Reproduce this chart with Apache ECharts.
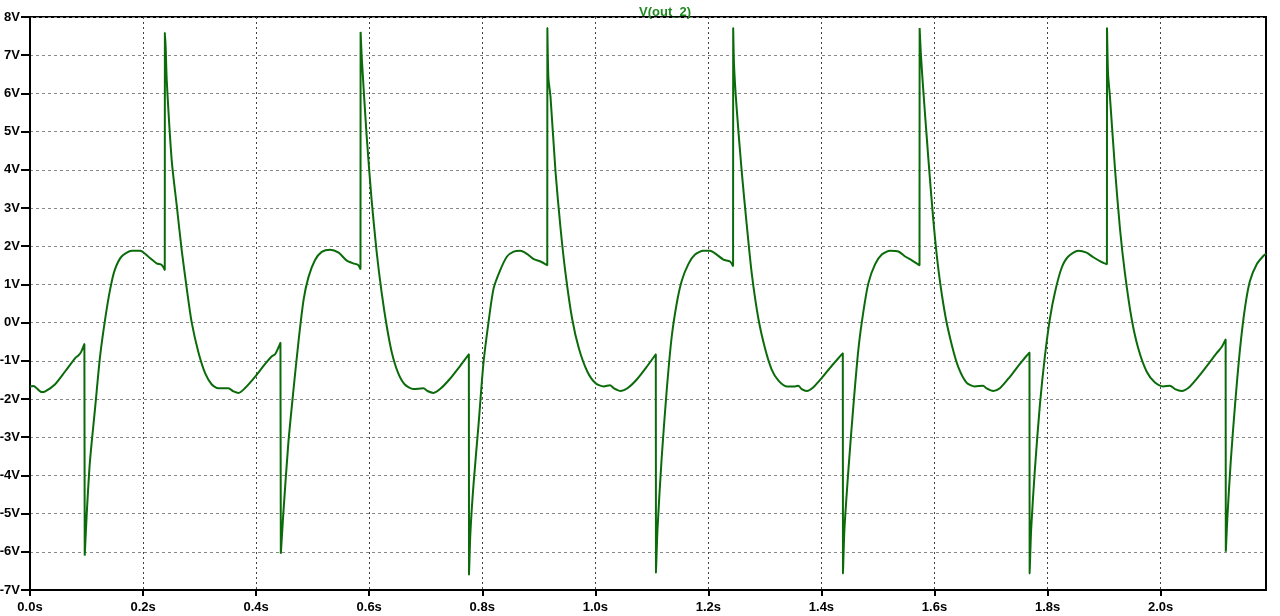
<!DOCTYPE html>
<html>
<head>
<meta charset="utf-8">
<script src="https://cdn.jsdelivr.net/npm/echarts@6/dist/echarts.min.js"></script>
<style>
html,body{margin:0;padding:0;background:#fff;}
#chart{width:1280px;height:616px;}
</style>
</head>
<body>
<div id="chart"></div>
<script>
const seriesName = 'V(out_2)';
const yTicks = [-7,-6,-5,-4,-3,-2,-1,0,1,2,3,4,5,6,7,8];
const xTicks = [0.0,0.2,0.4,0.6,0.8,1.0,1.2,1.4,1.6,1.8,2.0];
const timeS = [
0.000,0.006,0.0206,0.027,0.044,0.062,0.080,0.0855,0.090,0.0962,0.0968,0.1003,0.106,0.115,0.124,0.133,0.142,0.150,0.162,0.180,0.195,0.209,0.224,0.233,0.2384,
0.2386,0.2400,0.242,0.2507,0.2596,0.2685,0.2773,0.2861,0.298,0.310,0.3215,0.333,0.351,0.360,0.369,0.380,0.398,0.416,0.428,0.4336,0.443,
0.4437,0.448,0.457,0.466,0.475,0.484,0.4926,0.504,0.516,0.531,0.546,0.5598,0.5716,0.5805,0.5846,
0.5848,0.587,0.5953,0.604,0.613,0.622,0.631,0.640,0.6515,0.663,0.678,0.696,0.703,0.7136,0.7254,0.743,0.761,0.7763,
0.7766,0.779,0.7846,0.7935,0.802,0.811,0.820,0.832,0.8438,0.8556,0.8675,0.879,0.891,0.903,0.915,
0.9152,0.917,0.9207,0.9296,0.9385,0.9473,0.959,0.971,0.9858,1.0006,1.015,1.026,1.033,1.045,1.0568,1.0745,1.0923,1.107,
1.1073,1.110,1.1174,1.1263,1.135,1.144,1.1528,1.1646,1.1764,1.1912,1.203,1.2147,1.2265,1.2383,1.2437,
1.2439,1.2455,1.250,1.259,1.2678,1.2767,1.2885,1.3003,1.312,1.324,1.3386,1.3534,1.359,1.365,1.374,1.3858,1.4006,1.4183,1.4378,
1.4381,1.4407,1.4478,1.4566,1.4655,1.4743,1.4832,1.495,1.5068,1.5215,1.5363,1.548,1.560,1.5735,
1.5737,1.576,1.5805,1.5894,1.598,1.607,1.6189,1.6307,1.6425,1.6566,1.6714,1.686,1.692,1.7038,1.7156,1.7333,1.751,1.768,
1.7683,1.771,1.7776,1.7864,1.7953,1.8041,1.813,1.8248,1.8366,1.8543,1.869,1.881,1.8926,1.905,
1.9052,1.907,1.9103,1.9192,1.928,1.9369,1.9487,1.9605,1.9752,1.990,2.0047,2.0165,2.0254,2.0372,2.052,2.0696,2.0873,2.0991,2.108,2.115,
2.1153,2.118,2.124,2.1316,2.1405,2.1493,2.158,2.170,2.182,2.1864
];
const voltV = [
-1.67,-1.66,-1.82,-1.80,-1.62,-1.28,-0.93,-0.86,-0.78,-0.56,-6.10,-5.02,-3.64,-2.26,-0.88,0.10,0.89,1.38,1.73,1.88,1.88,1.73,1.55,1.51,1.38,
7.59,7.20,6.31,4.24,3.06,1.88,0.89,0.00,-0.78,-1.33,-1.62,-1.72,-1.72,-1.80,-1.84,-1.72,-1.42,-1.08,-0.88,-0.83,-0.53,
-6.05,-5.02,-3.15,-1.77,-0.49,0.60,1.19,1.63,1.85,1.91,1.83,1.63,1.55,1.51,1.40,
7.61,6.90,4.93,3.26,1.88,0.79,-0.09,-0.78,-1.33,-1.62,-1.74,-1.72,-1.79,-1.84,-1.74,-1.47,-1.13,-0.83,
-6.60,-5.51,-4.23,-2.66,-1.08,0.00,0.89,1.38,1.73,1.86,1.88,1.80,1.66,1.60,1.50,
7.71,6.41,5.92,3.95,2.47,1.29,0.10,-0.68,-1.28,-1.59,-1.67,-1.64,-1.72,-1.79,-1.72,-1.47,-1.13,-0.83,
-6.55,-5.41,-3.54,-1.77,-0.39,0.50,1.09,1.53,1.78,1.88,1.88,1.78,1.65,1.60,1.48,
7.71,6.70,5.62,3.95,2.57,1.29,0.10,-0.68,-1.23,-1.52,-1.67,-1.67,-1.65,-1.74,-1.79,-1.69,-1.45,-1.13,-0.80,
-6.57,-5.41,-3.84,-2.16,-0.68,0.30,1.04,1.53,1.78,1.88,1.86,1.73,1.63,1.50,
7.71,7.00,6.01,4.24,2.67,1.38,0.20,-0.59,-1.18,-1.57,-1.67,-1.65,-1.72,-1.79,-1.72,-1.42,-1.08,-0.78,
-6.57,-5.41,-3.84,-2.16,-0.88,0.10,0.79,1.43,1.73,1.88,1.83,1.71,1.61,1.53,
7.71,6.51,5.92,4.04,2.47,1.29,0.10,-0.68,-1.28,-1.57,-1.67,-1.65,-1.74,-1.79,-1.67,-1.37,-1.03,-0.80,-0.64,-0.44,
-6.00,-5.12,-3.64,-2.16,-0.68,0.40,1.09,1.53,1.75,1.80
];
const xMax = 2.1864;

const data = timeS.map((t, i) => [t, voltV[i]]);
const chart = echarts.init(document.getElementById('chart'), null, {renderer: 'canvas'});
const fontFam = '"Liberation Sans", Arial, sans-serif';
chart.setOption({
  animation: false,
  backgroundColor: '#ffffff',
  title: {
    text: seriesName,
    left: 660, top: 1, textAlign: 'center',
    textStyle: {color: '#1f8a1f', fontSize: 13, fontWeight: 'bold', fontFamily: fontFam}
  },
  grid: {left: 30, right: 14, top: 17, bottom: 26, containLabel: false, outerBoundsMode: 'none',
         show: true, borderColor: '#000', borderWidth: 2, backgroundColor: 'transparent'},
  xAxis: {
    type: 'value', min: 0, max: xMax, interval: 0.2,
    axisLine: {show: true, onZero: false, lineStyle: {color: '#000', width: 2}},
    axisTick: {show: true, inside: false, length: 6, lineStyle: {color: '#000', width: 2}, customValues: xTicks},
    axisLabel: {
      color: '#000', fontSize: 13, fontWeight: 'bold', fontFamily: fontFam, margin: 11,
      customValues: xTicks,
      formatter: v => v.toFixed(1) + 's'
    },
    splitLine: {show: true, lineStyle: {color: '#444', type: [2, 3], width: 1}}
  },
  yAxis: {
    type: 'value', min: -7, max: 8, interval: 1,
    axisLine: {show: true, onZero: false, lineStyle: {color: '#000', width: 2}},
    axisTick: {show: true, inside: false, length: 9, lineStyle: {color: '#000', width: 2}},
    axisLabel: {
      color: '#000', fontSize: 13, fontWeight: 'bold', fontFamily: fontFam, margin: 10,
      customValues: yTicks,
      formatter: v => v + 'V'
    },
    splitLine: {show: true, lineStyle: {color: '#888', type: [3, 3], width: 1}}
  },
  series: [{
    name: seriesName, type: 'line', data: data,
    showSymbol: false, symbol: 'none',
    smooth: 0.25,
    lineStyle: {color: '#0b6b0b', width: 2},
    z: 3
  }]
});
</script>
</body>
</html>
